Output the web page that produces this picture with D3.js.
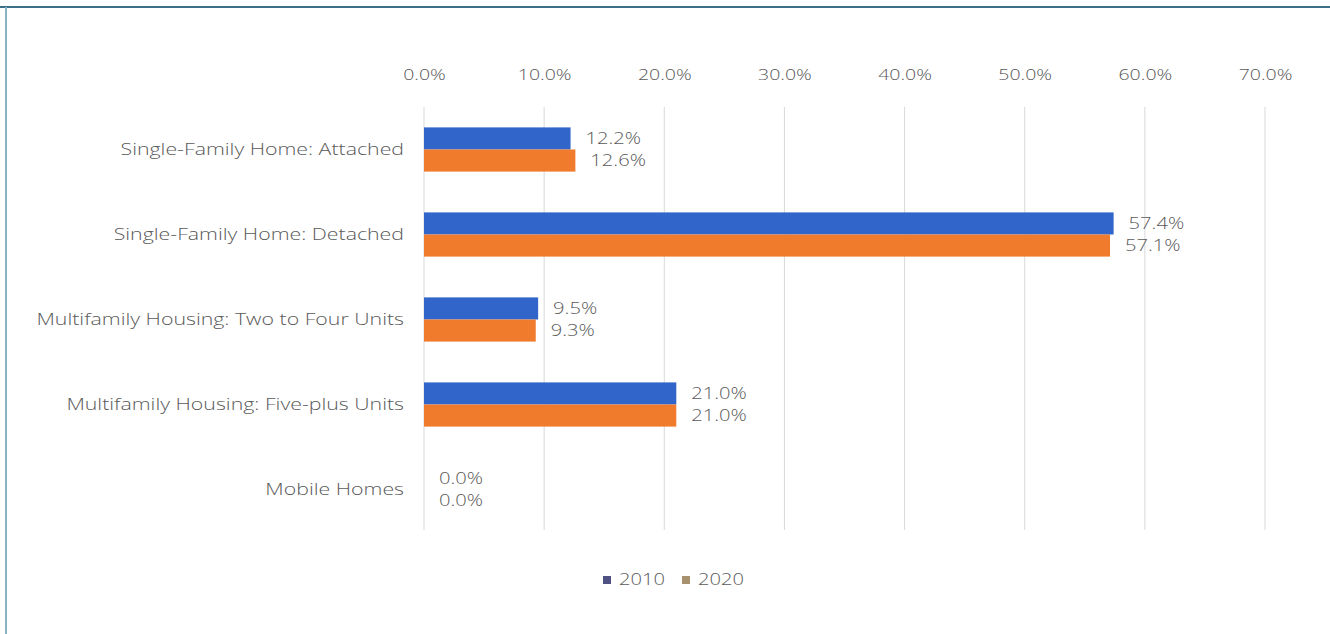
<!DOCTYPE html>
<html>
<head>
<meta charset="utf-8">
<script src="https://cdn.jsdelivr.net/npm/d3@7"></script>
<style>
  body { margin: 0; background: #fff; }
  text { font-family: "Open Sans", sans-serif; fill: #595959; font-weight: 300; }
</style>
</head>
<body>
<script>
// data
var categories = ["Single-Family Home: Attached", "Single-Family Home: Detached",
  "Multifamily Housing: Two to Four Units", "Multifamily Housing: Five-plus Units", "Mobile Homes"];
var seriesNames = ["2010", "2020"];
var values2010 = [12.2, 57.4, 9.5, 21.0, 0.0];
var values2020 = [12.6, 57.1, 9.3, 21.0, 0.0];
var tickValues = [0, 10, 20, 30, 40, 50, 60, 70];

var barColors = ["#3165c9", "#f07b2c"];
var legendColors = ["#4f5283", "#a8916f"];

// the text in the picture is stretched sideways
var stretch = 1.3;

var svgWidth = 1330;
var svgHeight = 634;

var margin = { top: 107, right: 64, bottom: 102, left: 424 };
var chartHeight = svgHeight - margin.top - margin.bottom;

var svg = d3.select("body")
  .append("svg")
  .attr("width", svgWidth)
  .attr("height", svgHeight);

// frame
svg.append("line")
  .attr("x1", 0).attr("x2", svgWidth).attr("y1", 7).attr("y2", 7)
  .attr("stroke", "#3c6e8b").attr("stroke-width", 2);
svg.append("line")
  .attr("x1", 6).attr("x2", 6).attr("y1", 7).attr("y2", svgHeight)
  .attr("stroke", "#8cb1c2").attr("stroke-width", 2);

var chartGroup = svg.append("g")
  .attr("transform", `translate(${margin.left}, ${margin.top})`);

var xScale = d3.scaleLinear()
  .domain([0, 70])
  .range([0, 841]);

var yScale = d3.scaleBand()
  .domain(categories)
  .range([0, chartHeight])
  .paddingInner(0.48)
  .paddingOuter(0.24);

var subScale = d3.scaleBand()
  .domain(seriesNames)
  .range([0, yScale.bandwidth()]);

// gridlines
chartGroup.append("g")
  .selectAll("line")
  .data(tickValues)
  .enter()
  .append("line")
  .attr("x1", d => xScale(d))
  .attr("x2", d => xScale(d))
  .attr("y1", 0)
  .attr("y2", chartHeight - 2)
  .attr("stroke", "#d9d9d9")
  .attr("stroke-width", 1);

// top axis labels
var xAxis = d3.axisTop(xScale)
  .tickValues(tickValues)
  .tickSize(0)
  .tickPadding(0)
  .tickFormat(d => d.toFixed(1) + "%");

chartGroup.append("g")
  .attr("transform", "translate(0, -27)")
  .call(xAxis)
  .call(g => g.select(".domain").remove())
  .selectAll("text")
  .attr("font-size", 15)
  .attr("font-family", "Open Sans")
  .attr("fill", "#595959")
  .attr("transform", `scale(${stretch},1)`);

// category labels
var yAxis = d3.axisLeft(yScale)
  .tickSize(0)
  .tickPadding(20);

chartGroup.append("g")
  .call(yAxis)
  .call(g => g.select(".domain").remove())
  .selectAll("text")
  .attr("font-size", 16.4)
  .attr("font-family", "Open Sans")
  .attr("fill", "#595959")
  .attr("x", -20 / stretch)
  .attr("transform", `scale(${stretch},1)`);

// bars
var rows = categories.map((c, i) => ({ category: c, vals: [values2010[i], values2020[i]] }));

var groups = chartGroup.selectAll(".cat")
  .data(rows)
  .enter()
  .append("g")
  .attr("class", "cat")
  .attr("transform", d => `translate(0, ${yScale(d.category)})`);

groups.selectAll("rect")
  .data(d => d.vals.map((v, j) => ({ series: seriesNames[j], value: v, j: j })))
  .enter()
  .append("rect")
  .attr("x", 0)
  .attr("y", d => subScale(d.series))
  .attr("width", d => xScale(d.value))
  .attr("height", subScale.bandwidth())
  .attr("fill", d => barColors[d.j]);

groups.selectAll("text.val")
  .data(d => d.vals.map((v, j) => ({ series: seriesNames[j], value: v, j: j })))
  .enter()
  .append("text")
  .attr("class", "val")
  .attr("x", d => (xScale(d.value) + 15) / stretch)
  .attr("y", d => subScale(d.series) + subScale.bandwidth() / 2)
  .attr("dy", "0.35em")
  .attr("font-size", 15.5)
  .attr("transform", `scale(${stretch},1)`)
  .text(d => d.value.toFixed(1) + "%");

// legend
var legend = svg.append("g")
  .attr("transform", "translate(603, 580)");

var legendItems = legend.selectAll("g")
  .data(seriesNames)
  .enter()
  .append("g")
  .attr("transform", (d, i) => `translate(${i * 79}, 0)`);

legendItems.append("rect")
  .attr("x", 0)
  .attr("y", -4)
  .attr("width", 8)
  .attr("height", 8)
  .attr("fill", (d, i) => legendColors[i]);

legendItems.append("text")
  .attr("x", 16 / stretch)
  .attr("y", 0)
  .attr("dy", "0.35em")
  .attr("font-size", 15.5)
  .attr("transform", `scale(${stretch},1)`)
  .text(d => d);
</script>
</body>
</html>
